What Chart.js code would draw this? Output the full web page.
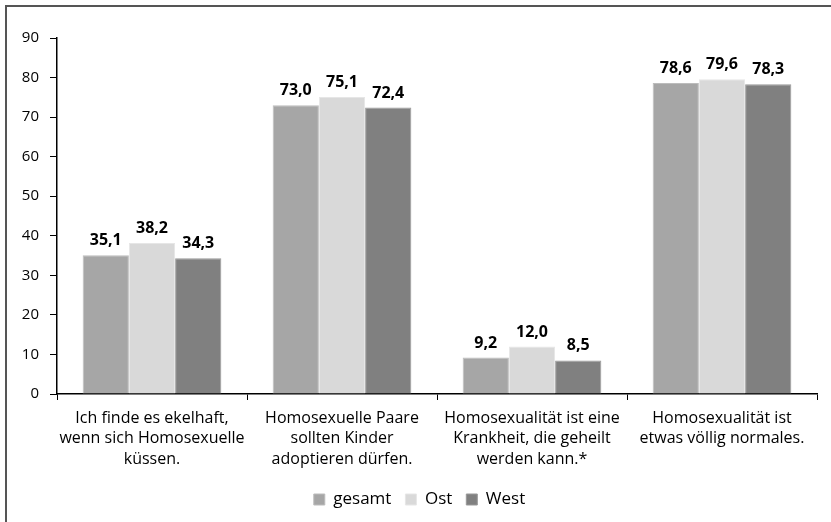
<!DOCTYPE html>
<html>
<head>
<meta charset="utf-8">
<script src="https://cdn.jsdelivr.net/npm/chart.js@4"></script>
<style>
  html, body { margin: 0; padding: 0; background: #fff; }
  #wrap { position: relative; width: 831px; height: 522px; overflow: hidden; }
  #frame { position: absolute; left: 5px; top: 5px; right: -10px; bottom: -10px; border-top: 2px solid #555; border-left: 2px solid #555; }
  canvas { position: absolute; left: 0; top: 0; }
</style>
</head>
<body>
<div id="wrap">
  <div id="frame"></div>
  <canvas id="chart" width="831" height="522"></canvas>
</div>
<script>
// survey statements (multi-line labels)
const categories = [
  ['Ich finde es ekelhaft,', 'wenn sich Homosexuelle', 'küssen.'],
  ['Homosexuelle Paare', 'sollten Kinder', 'adoptieren dürfen.'],
  ['Homosexualität ist eine', 'Krankheit, die geheilt', 'werden kann.*'],
  ['Homosexualität ist', 'etwas völlig normales.'],
];
const seriesNames = ['gesamt', 'Ost', 'West'];
const gesamt = [35.1, 73.0, 9.2, 78.6];
const ost = [38.2, 75.1, 12.0, 79.6];
const west = [34.3, 72.4, 8.5, 78.3];
const yTicks = [0, 10, 20, 30, 40, 50, 60, 70, 80, 90];

const barColors = ['#a6a6a6', '#d9d9d9', '#808080'];
const fontFamily = '"Open Sans", "Noto Sans", sans-serif';

// draws the bold value above each bar, German decimal comma
const valueLabels = {
  id: 'valueLabels',
  afterDatasetsDraw(chart) {
    const ctx = chart.ctx;
    ctx.save();
    ctx.font = 'bold 16px ' + fontFamily;
    ctx.fillStyle = '#000';
    ctx.textAlign = 'center';
    ctx.textBaseline = 'alphabetic';
    chart.data.datasets.forEach((ds, i) => {
      chart.getDatasetMeta(i).data.forEach((bar, j) => {
        ctx.fillText(ds.data[j].toFixed(1).replace('.', ','), bar.x, bar.y - 10);
      });
    });
    ctx.restore();
  },
};

new Chart(document.getElementById('chart'), {
  type: 'bar',
  data: {
    labels: categories,
    datasets: [
      { label: seriesNames[0], data: gesamt, backgroundColor: barColors[0], borderColor: '#bcbcbc', borderWidth: 1 },
      { label: seriesNames[1], data: ost, backgroundColor: barColors[1], borderColor: '#e6e6e6', borderWidth: 1 },
      { label: seriesNames[2], data: west, backgroundColor: barColors[2], borderColor: '#999999', borderWidth: 1 },
    ],
  },
  options: {
    responsive: false,
    animation: false,
    layout: { padding: { left: 22, right: 14, top: 38, bottom: 4 } },
    datasets: { bar: { categoryPercentage: 0.73, barPercentage: 1 } },
    plugins: {
      legend: {
        position: 'bottom',
        labels: {
          color: '#000', font: { family: fontFamily, size: 17 },
          boxWidth: 11, boxHeight: 11, padding: 14,
        },
      },
      tooltip: { enabled: false },
    },
    scales: {
      x: {
        afterFit: (scale) => { scale.height = 83; scale.paddingLeft = 0; scale.paddingRight = 0; },
        grid: { display: true, drawOnChartArea: false, color: '#000', tickLength: 6, offset: true },
        border: { color: '#000', width: 1.5 },
        ticks: { color: '#000', font: { family: fontFamily, size: 16, lineHeight: 1.28 }, maxRotation: 0, autoSkip: false, padding: 8 },
      },
      y: {
        min: 0, max: 90,
        afterBuildTicks: (axis) => { axis.ticks = yTicks.map((v) => ({ value: v })); },
        afterFit: (scale) => { scale.width = 35; },
        grid: { display: true, drawOnChartArea: false, color: '#000', tickLength: 7 },
        border: { color: '#000', width: 1.5 },
        ticks: { color: '#000', font: { family: fontFamily, size: 15 }, padding: 11 },
      },
    },
  },
  plugins: [valueLabels],
});
</script>
</body>
</html>
